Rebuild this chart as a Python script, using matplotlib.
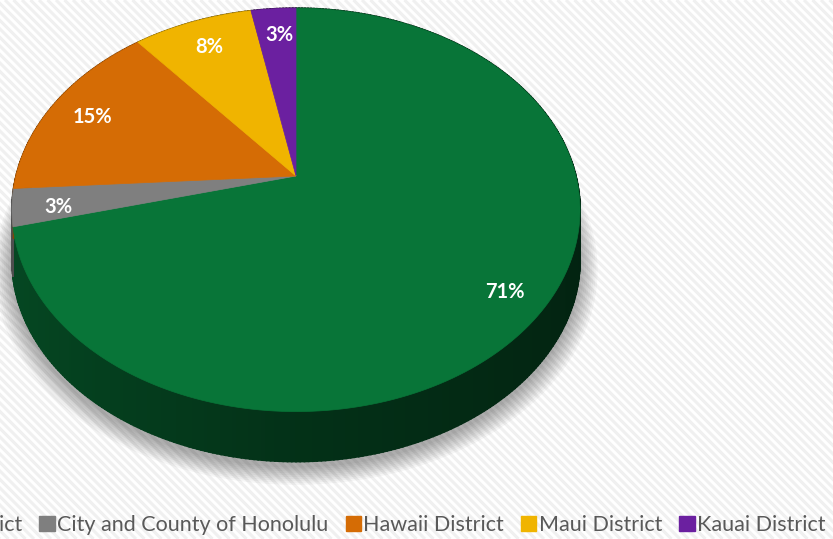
import numpy as np
import matplotlib
matplotlib.use("Agg")
import matplotlib.pyplot as plt
from matplotlib.patches import Polygon, Patch

# share of each district, clockwise from 12 o'clock
districts = ["Oahu District", "City and County of Honolulu", "Hawaii District",
             "Maui District", "Kauai District"]
shares = [71, 3, 15, 8, 3]
colors = ["#087538", "#7f7f7f", "#d56c05", "#f0b400", "#6b20a0"]

W, H = 833, 539
fig = plt.figure(figsize=(W / 100, H / 100), dpi=100)
ax = fig.add_axes([0, 0, 1, 1])
ax.set_xlim(0, W)
ax.set_ylim(0, H)
ax.axis("off")

# diagonal pinstripe background
for c in np.arange(0, W + H, 8.5):
    ax.plot([c - H, c], [H, 0], color="#f0f0f0", lw=2.2, zorder=0,
            solid_capstyle="butt")

# tilted pie: perspective squash of a unit disc
cx, cy = 296, 363
A, B, k = 280, 196, 0.168
depth = 50


def project(u, v, drop=0.0):
    w = 1 + k * v
    return cx + A * u / w, cy + B * v / w - drop


def rim(t1, t2, n=200, r=1.0, drop=0.0):
    t = np.linspace(t1, t2, n)
    x, y = project(r * np.cos(t), r * np.sin(t), drop)
    return np.column_stack([x, y])


def shade(col, f):
    rgb = np.array(matplotlib.colors.to_rgb(col))
    return tuple(rgb * f)


# slice angle ranges (radians, counter-clockwise convention)
fracs = np.array(shares) / sum(shares)
edges = np.concatenate([[0], np.cumsum(fracs)])
starts = np.pi / 2 - 2 * np.pi * edges[:-1]
ends = np.pi / 2 - 2 * np.pi * edges[1:]

# soft drop shadow under the pie
for grow in np.linspace(1.06, 1.0, 10):
    t = np.linspace(0, 2 * np.pi, 400)
    x, y = project(grow * np.cos(t), grow * np.sin(t), depth + 6)
    ax.add_patch(Polygon(np.column_stack([x, y]), closed=True,
                         facecolor="#000000", alpha=0.035, lw=0, zorder=1))

# side walls, drawn in thin segments so the shading can vary
for s, e, col in zip(starts, ends, colors):
    ts = np.linspace(e, s, max(int((s - e) * 80), 2))
    for a, b in zip(ts[:-1], ts[1:]):
        mid = 0.5 * (a + b)
        f = 0.42 + 0.2 * max(0.0, -np.cos(mid)) - 0.12 * max(0.0, np.cos(mid))
        top = rim(a, b, 6)
        bot = rim(b, a, 6, drop=depth)
        ax.add_patch(Polygon(np.vstack([top, bot]), closed=True,
                             facecolor=shade(col, f), edgecolor=shade(col, f),
                             lw=1.2, zorder=2))

# top faces
apex = np.array([project(0, 0)])
for s, e, col in zip(starts, ends, colors):
    pts = np.vstack([apex, rim(s, e)])
    ax.add_patch(Polygon(pts, closed=True, facecolor=col, edgecolor=col,
                         lw=0.5, zorder=3))

# percentage labels
for s, e, p in zip(starts, ends, shares):
    mid = 0.5 * (s + e)
    x, y = project(0.85 * np.cos(mid), 0.85 * np.sin(mid))
    ax.text(x + 3, y - 4, f"{p}%", color="white", fontsize=14.5, fontweight="bold",
            family="Lato", ha="center", va="center", zorder=4)

handles = [Patch(facecolor=c, edgecolor=c) for c in colors]
ax.legend(handles, districts, loc="center right", bbox_to_anchor=(845 / W, 14 / H),
          ncol=5, frameon=False, prop={"family": "Lato", "size": 15.5},
          labelcolor="#595959", handlelength=0.7, handleheight=0.7,
          handletextpad=0.12, columnspacing=0.8)

fig.savefig("out.png", dpi=100)
